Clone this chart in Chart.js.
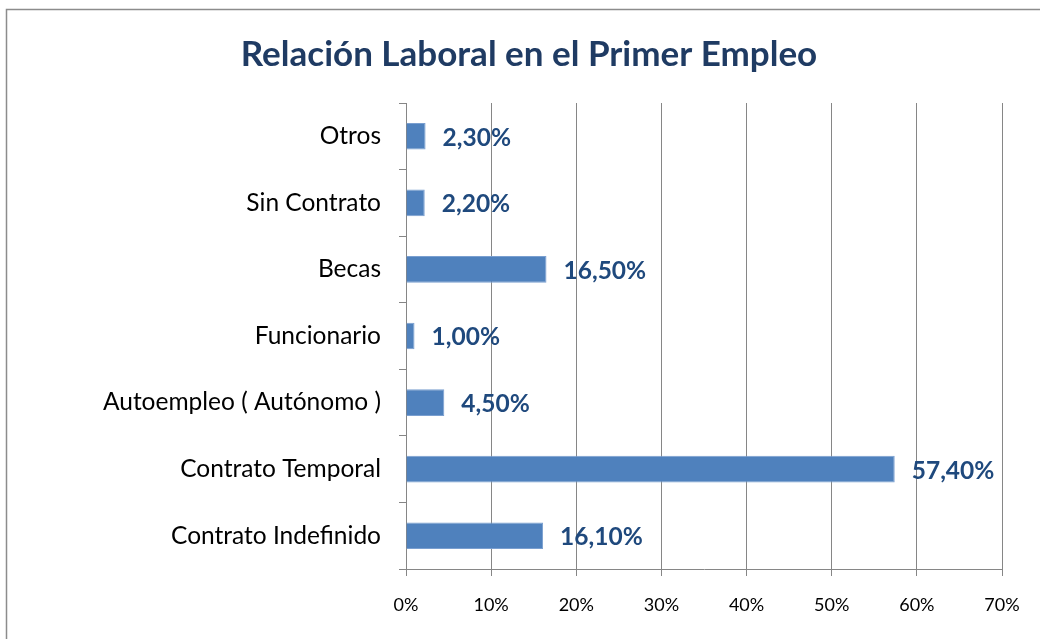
<!DOCTYPE html>
<html>
<head>
<meta charset="utf-8">
<script src="https://cdn.jsdelivr.net/npm/chart.js@4/dist/chart.umd.min.js"></script>
<style>
html,body{margin:0;padding:0;background:#fff;}
#wrap{width:1040px;height:639px;position:relative;}
</style>
</head>
<body>
<div id="wrap"><canvas id="c" width="1040" height="639"></canvas></div>
<script>
const categories = ["Otros","Sin Contrato","Becas","Funcionario","Autoempleo ( Autónomo )","Contrato Temporal","Contrato Indefinido"];
const values = [2.3, 2.2, 16.5, 1.0, 4.5, 57.4, 16.1];
const xTicks = [0,10,20,30,40,50,60,70];
const titleText = "Relación Laboral en el Primer Empleo";

const FONT = "Lato, 'Open Sans', 'Liberation Sans', sans-serif";

const borderPlugin = {
  id: 'outerBorder',
  beforeDraw(chart) {
    const ctx = chart.ctx;
    ctx.save();
    ctx.fillStyle = '#fff';
    ctx.fillRect(0,0,chart.width,chart.height);
    ctx.strokeStyle = '#8c8c8c';
    ctx.lineWidth = 1.5;
    ctx.strokeRect(6.5, 9.5, chart.width + 20, chart.height + 20);
    ctx.restore();
  }
};

const labelPlugin = {
  id: 'valueLabels',
  afterDatasetsDraw(chart) {
    const ctx = chart.ctx;
    const meta = chart.getDatasetMeta(0);
    ctx.save();
    ctx.font = "bold 24.5px " + FONT;
    ctx.fillStyle = '#1F497D';
    ctx.textAlign = 'left';
    ctx.textBaseline = 'middle';
    meta.data.forEach((bar, i) => {
      const txt = values[i].toFixed(2).replace('.', ',') + '%';
      ctx.fillText(txt, bar.x + 17, bar.y + 1.5);
    });
    ctx.restore();
  }
};

new Chart(document.getElementById('c'), {
  type: 'bar',
  data: {
    labels: categories,
    datasets: [{
      data: values,
      backgroundColor: '#4F81BD',
      borderColor: '#7A9FD0',
      borderWidth: 1,
      barPercentage: 0.8,
      categoryPercentage: 0.5
    }]
  },
  options: {
    indexAxis: 'y',
    responsive: false,
    animation: false,
    devicePixelRatio: 1,
    layout: { padding: { left: 56, right: 38, top: 0, bottom: 0 } },
    plugins: {
      legend: { display: false },
      tooltip: { enabled: false },
      title: {
        display: true,
        text: titleText,
        color: '#1F3B63',
        font: { family: FONT, size: 35, weight: 'bold', lineHeight: 1.2 },
        padding: { top: 33.5, bottom: 27.5 }
      }
    },
    scales: {
      x: {
        min: 0, max: 70,
        afterBuildTicks(scale) { scale.ticks = xTicks.map(v => ({ value: v })); },
        afterFit(scale) { scale.height = 70; },
        ticks: {
          color: '#000',
          padding: 18,
          font: { family: FONT, size: 18 },
          callback: v => v + '%'
        },
        grid: { color: '#868686', lineWidth: 1, tickLength: 7, drawTicks: true },
        border: { color: '#868686', width: 1 }
      },
      y: {
        afterFit(scale) { scale.width = 350; },
        ticks: {
          color: '#000',
          padding: 18,
          font: { family: FONT, size: 24.5 }
        },
        grid: { offset: true, drawOnChartArea: false, color: '#868686', tickLength: 7 },
        border: { color: '#868686', width: 1 }
      }
    }
  },
  plugins: [borderPlugin, labelPlugin]
});
</script>
</body>
</html>
